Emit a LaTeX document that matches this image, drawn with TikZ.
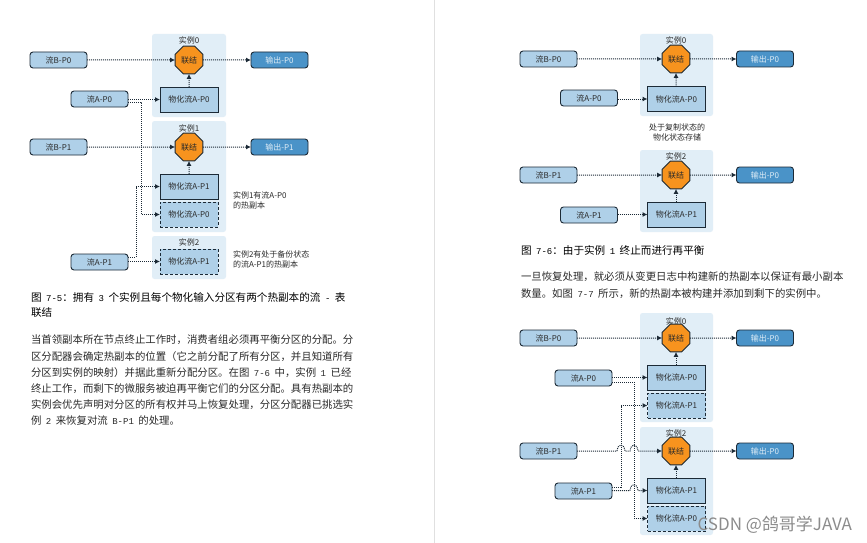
\documentclass[tikz,border=0pt]{standalone}
\usepackage{fontspec}
\setmainfont{Noto Sans CJK SC}
\newfontfamily\monolat{Liberation Mono}
\newcommand{\lat}[1]{{\monolat\fontsize{9}{9}\selectfont #1}}
\newcommand{\gp}{\hspace{4.5pt}}
\newcommand{\fcm}{\char"FF0C\relax}
\newcommand{\fcl}{\char"FF1A\relax}
\newcommand{\flp}{\char"FF08\relax}
\newcommand{\frp}{\char"FF09\relax}
\usetikzlibrary{shapes.geometric,arrows.meta,calc}
\definecolor{panelc}{HTML}{E1EEF7}
\definecolor{boxc}{HTML}{AFD0E8}
\definecolor{outc}{HTML}{4A93C8}
\definecolor{octc}{HTML}{F7931E}
\definecolor{inkc}{HTML}{1C2A36}
\definecolor{txtc}{HTML}{2A2A2A}
\definecolor{wmc}{HTML}{8C8C8C}
\tikzset{
  x=1pt,y=-1pt,
  every node/.style={inner sep=0pt,outer sep=0pt,text=txtc,font=\fontsize{8}{9}\selectfont},
  panel/.style={fill=panelc,rounded corners=2.5pt,draw=none,anchor=north west},
  stream/.style={draw=inkc,line width=.9pt,fill=boxc,rounded corners=3pt,minimum width=57pt,minimum height=16pt},
  output/.style={stream,fill=outc,text=panelc},
  store/.style={draw=inkc,line width=1pt,fill=boxc,minimum width=58pt,minimum height=25pt},
  standby/.style={store,densely dashed},
  joiner/.style={regular polygon,regular polygon sides=8,draw=inkc,line width=.9pt,fill=octc,minimum size=30pt},
  title/.style={font=\fontsize{8}{9}\selectfont},
  flow/.style={densely dotted,line width=1pt,draw=inkc,-{Latex[length=5pt,width=5pt]}},
  note/.style={anchor=west,align=left,font=\fontsize{8}{10}\selectfont},
  capt/.style={anchor=west,text=black,font=\fontsize{10.6}{12}\selectfont},
  body/.style={anchor=west,text=txtc,font=\fontsize{10.4}{12}\selectfont}
}
\begin{document}
\begin{tikzpicture}
\useasboundingbox (0,0) rectangle (867,543);
\fill[white] (0,0) rectangle (867,543);
\draw[line width=.8pt,draw=black!12] (434,0) -- (434,543);

% ---------- Figure 7-5
\node[panel,minimum width=74pt,minimum height=83pt] (la) at (152,34) {};
\node[panel,minimum width=74pt,minimum height=111pt] (lb) at (152,121) {};
\node[panel,minimum width=74pt,minimum height=43pt] (lc) at (152,236) {};
\node[title] (lat0) at (189,40) {实例0};
\node[title] (lat1) at (189,128) {实例1};
\node[title] (lat2) at (189,242) {实例2};
\node[stream] (lbp0) at (58.5,60) {流B-P0};
\node[stream] (lap0) at (99.5,99) {流A-P0};
\node[stream] (lbp1) at (58.5,147) {流B-P1};
\node[stream] (lap1) at (99.5,262) {流A-P1};
\node[output] (lo0) at (279.5,60) {输出-P0};
\node[output] (lo1) at (279.5,147) {输出-P1};
\node[joiner] (lj0) at (189,60) {联结};
\node[joiner] (lj1) at (189,147) {联结};
\node[store] (ls0) at (189,99.5) {物化流A-P0};
\node[store] (ls1) at (189,186.5) {物化流A-P1};
\node[standby] (ls2) at (189,214.5) {物化流A-P0};
\node[standby] (ls3) at (189,261.5) {物化流A-P1};
\node[note] (ln1) at (233,200) {实例1有流A-P0\\的热副本};
\node[note] (ln2) at (233,259) {实例2有处于备份状态\\的流A-P1的热副本};
\draw[flow] (lbp0) -- (lj0);
\draw[flow] (lj0) -- (lo0);
\draw[flow] (ls0) -- (lj0);
\draw[flow] (lap0.east |- ls0) -- (ls0);
\draw[flow] (lbp1) -- (lj1);
\draw[flow] (lj1) -- (lo1);
\draw[flow] (ls1) -- (lj1);
\draw[flow] (lap1.east |- ls3) -- (ls3);
\draw[flow] ($(lap0.east)+(0,3)$) -- ++(13,0) |- (ls2.west);
\draw[flow] ($(lap1.east)+(0,-5)$) -- ++(8,0) |- (ls1.west);

% ---------- Figure 7-6
\node[panel,minimum width=73pt,minimum height=82pt] (ma) at (640,34) {};
\node[panel,minimum width=73pt,minimum height=82pt] (mb) at (640,150) {};
\node[title] (mat0) at (676,40) {实例0};
\node[title] (mat1) at (676,156) {实例2};
\node[stream] (mbp0) at (548.5,59) {流B-P0};
\node[stream] (map0) at (589,98) {流A-P0};
\node[stream] (mbp1) at (548.5,175) {流B-P1};
\node[stream] (map1) at (589,215) {流A-P1};
\node[output] (mo0) at (765,59) {输出-P0};
\node[output] (mo1) at (765,175) {输出-P0};
\node[joiner] (mj0) at (676,59) {联结};
\node[joiner] (mj1) at (676,175) {联结};
\node[store] (ms0) at (676.5,99) {物化流A-P0};
\node[store] (ms1) at (676.5,214.5) {物化流A-P1};
\node[anchor=center,align=center,font=\fontsize{8}{10}\selectfont] (mn) at (677,132) {处于复制状态的\\物化状态存储};
\draw[flow] (mbp0) -- (mj0);
\draw[flow] (mj0) -- (mo0);
\draw[flow] (ms0.north -| mj0) -- (mj0);
\draw[flow] (map0.east |- ms0) -- (ms0);
\draw[flow] (mbp1) -- (mj1);
\draw[flow] (mj1) -- (mo1);
\draw[flow] (ms1.north -| mj1) -- (mj1);
\draw[flow] (map1.east |- ms1) -- (ms1);

% ---------- Figure 7-7
\node[panel,minimum width=73pt,minimum height=109pt] (ra) at (640,313) {};
\node[panel,minimum width=73pt,minimum height=108pt] (rb) at (640,427) {};
\node[title] (rat0) at (676,321) {实例0};
\node[title] (rat1) at (676,433) {实例2};
\node[stream] (rbp0) at (548.5,338) {流B-P0};
\node[stream] (rap0) at (583.5,378) {流A-P0};
\node[stream] (rbp1) at (548.5,451) {流B-P1};
\node[stream] (rap1) at (583.5,491) {流A-P1};
\node[output] (ro0) at (765,338) {输出-P0};
\node[output] (ro1) at (765,451) {输出-P0};
\node[joiner] (rj0) at (676,338) {联结};
\node[joiner] (rj1) at (676,451) {联结};
\node[store] (rs0) at (676.5,377.5) {物化流A-P0};
\node[standby] (rs1) at (676.5,405.5) {物化流A-P1};
\node[store] (rs2) at (676.5,490.5) {物化流A-P1};
\node[standby] (rs3) at (676.5,518.5) {物化流A-P0};
\draw[flow] (rbp0) -- (rj0);
\draw[flow] (rj0) -- (ro0);
\draw[flow] (rs0.north -| rj0) -- (rj0);
\draw[flow] (rap0.east |- rs0) -- (rs0);
\draw[flow] (rj1) -- (ro1);
\draw[flow] (rs2.north -| rj1) -- (rj1);
\draw[flow] (rbp1.east) -- (617,451) .. controls (618,443) and (624,443) .. (625,451) -- (630,451) .. controls (631,443) and (637,443) .. (638,451) -- (rj1.west);
\draw[flow] (rap1.east |- rs2) -- (630,490.5) .. controls (631,482.5) and (637,482.5) .. (638,490.5) -- (rs2.west);
\draw[flow] ($(rap0.east)+(0,4)$) -- ++(22,0) |- (rs3.west);
\draw[flow] ($(rap1.east)+(0,-4)$) -- ++(9,0) |- (rs1.west);

% ---------- Texts
\node[capt] (c5a) at (31,297) {图\gp\lat{7-5}\fcl 拥有\gp\lat{3}\gp 个实例且每个物化输入分区有两个热副本的流\gp\lat{-}\gp 表};
\node[capt] (c5b) at (31,313) {联结};
\node[body] (b1) at (31,340) {当首领副本所在节点终止工作时\fcm 消费者组必须再平衡分区的分配。分};
\node[body] (b2) at (31,356.5) {区分配器会确定热副本的位置\flp 它之前分配了所有分区\fcm 并且知道所有};
\node[body] (b3) at (31,372.5) {分区到实例的映射\frp 并据此重新分配分区。在图\gp\lat{7-6}\gp 中\fcm 实例\gp\lat{1}\gp 已经};
\node[body] (b4) at (31,388.5) {终止工作\fcm 而剩下的微服务被迫再平衡它们的分区分配。具有热副本的};
\node[body] (b5) at (31,404.5) {实例会优先声明对分区的所有权并马上恢复处理\fcm 分区分配器已挑选实};
\node[body] (b6) at (31,421) {例\gp\lat{2}\gp 来恢复对流\gp\lat{B-P1}\gp 的处理。};
\node[capt] (c6) at (521,250) {图\gp\lat{7-6}\fcl 由于实例\gp\lat{1}\gp 终止而进行再平衡};
\node[body] (d1) at (521,277) {一旦恢复处理\fcm 就必须从变更日志中构建新的热副本以保证有最小副本};
\node[body] (d2) at (521,294) {数量。如图\gp\lat{7-7}\gp 所示\fcm 新的热副本被构建并添加到剩下的实例中。};
\node[anchor=east,text=wmc,font=\fontsize{17}{20}\selectfont] (wm) at (852,525) {CSDN @鸽哥学JAVA};
\end{tikzpicture}
\end{document}
